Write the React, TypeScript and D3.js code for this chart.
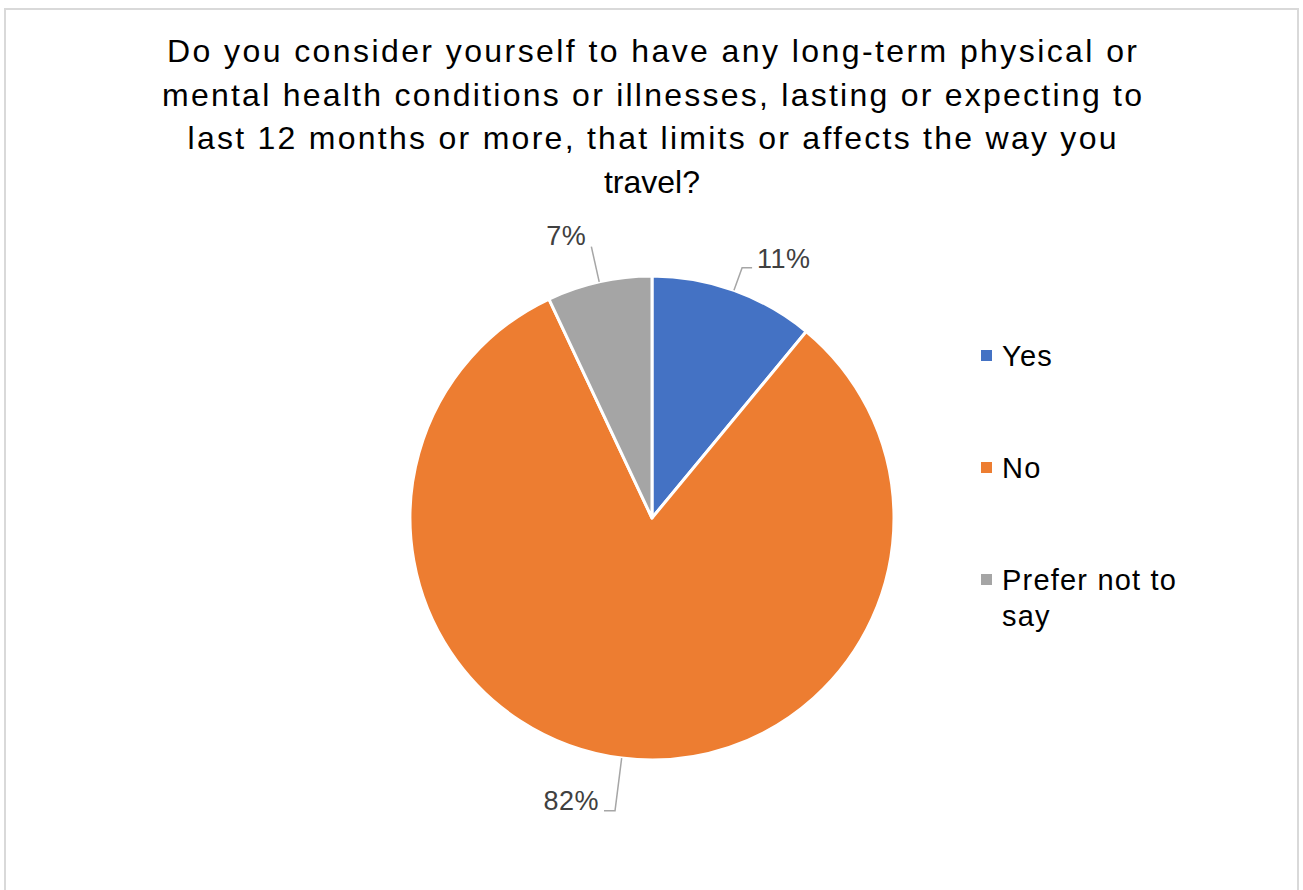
import React from "react";
import * as d3 from "d3";

const categories = ["Yes", "No", "Prefer not to say"];
const values = [11, 82, 7];
const colors = ["#4472C4", "#ED7D31", "#A5A5A5"];
const titleLines = [
  "Do you consider yourself to have any long-term physical or",
  "mental health conditions or illnesses, lasting or expecting to",
  "last 12 months or more, that limits or affects the way you",
  "travel?",
];
const titleWidths = [970, 980, 929, 0];
const legendLines = [["Yes"], ["No"], ["Prefer not to", "say"]];

const W = 1303;
const H = 890;
const cx = 652;
const cy = 518;
const R = 242;

// label leader styling (elbow radius, horizontal tail length, label anchor)
const labelStyle = [
  { elbowR: 266, tail: 10, side: 1 },
  { elbowR: 295, tail: -11, side: -1 },
  { elbowR: 278, tail: 0, side: 0 },
];

export default function App() {
  const pie = d3.pie<number>().value((d) => d).sort(null);
  const arcs = pie(values);
  const arcGen = d3.arc<d3.PieArcDatum<number>>().innerRadius(0).outerRadius(R);
  const total = d3.sum(values);

  return (
    <svg
      width={W}
      height={H}
      style={{ position: "absolute", left: 0, top: 0, background: "#fff" }}
      fontFamily="'Liberation Sans', Arial, sans-serif"
    >
      <rect x={5} y={9} width={1293} height={900} fill="#fff" stroke="#d9d9d9" strokeWidth={2} />
      {titleLines.map((t, i) => (
        <text
          key={i}
          x={cx}
          y={62 + i * 43.7}
          textAnchor="middle"
          fontSize={32}
          fill="#000"
          {...(titleWidths[i] ? { textLength: titleWidths[i], lengthAdjust: "spacing" } : {})}
        >
          {t}
        </text>
      ))}
      <g transform={`translate(${cx},${cy})`}>
        {arcs.map((a, i) => (
          <path key={i} d={arcGen(a) || ""} fill={colors[i]} stroke="#fff" strokeWidth={3} strokeLinejoin="round" />
        ))}
        {arcs.map((a, i) => {
          const mid = (a.startAngle + a.endAngle) / 2;
          const s = labelStyle[i];
          const x0 = R * Math.sin(mid);
          const y0 = -R * Math.cos(mid);
          const x1 = s.elbowR * Math.sin(mid);
          const y1 = -s.elbowR * Math.cos(mid);
          const x2 = x1 + s.tail;
          const pct = Math.round((values[i] / total) * 100) + "%";
          let lx = x2 + 5, ly = y1 + 0, anchor = "start";
          if (s.side === -1) { lx = x2 - 5; ly = y1 - 1; anchor = "end"; }
          if (s.side === 0) { lx = x1 - 5; ly = y1 - 2; anchor = "end"; }
          return (
            <g key={"l" + i}>
              <polyline
                points={`${x0},${y0} ${x1},${y1} ${x2},${y1}`}
                fill="none"
                stroke="#a6a6a6"
                strokeWidth={1.5}
              />
              <text x={lx} y={ly} textAnchor={anchor} fontSize={27} letterSpacing={0.5} fill="#404040">
                {pct}
              </text>
            </g>
          );
        })}
      </g>
      {categories.map((c, i) => {
        const y = 356 + i * 112;
        return (
          <g key={c}>
            <rect x={981} y={y - 6} width={11} height={11} fill={colors[i]} />
            {legendLines[i].map((ln, j) => (
              <text key={j} x={1002} y={y + 10 + j * 36} fontSize={29} letterSpacing={1.2} fill="#000">
                {ln}
              </text>
            ))}
          </g>
        );
      })}
    </svg>
  );
}
